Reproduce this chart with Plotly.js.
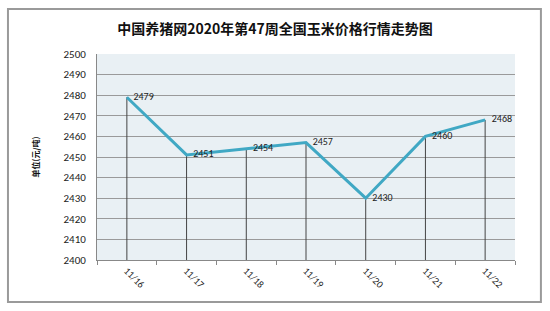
<!DOCTYPE html>
<html>
<head>
<meta charset="utf-8">
<script src="https://cdn.plot.ly/plotly-3.0.1.min.js"></script>
<style>html,body{margin:0;padding:0;background:#fff;}#chart{width:550px;height:311px;}</style>
</head>
<body>
<div id="chart"></div>
<script>
const categories = ["11/16", "11/17", "11/18", "11/19", "11/20", "11/21", "11/22"];
const prices = [2479, 2451, 2454, 2457, 2430, 2460, 2468];
const yTicks = [2400, 2410, 2420, 2430, 2440, 2450, 2460, 2470, 2480, 2490, 2500];
const chartTitle = "中国养猪网2020年第47周全国玉米价格行情走势图";
const yTitle = "单位(元/吨)";
const baseValue = 2400;

const trace = {
  x: categories,
  y: prices,
  type: "scatter",
  mode: "lines+markers+text",
  line: {color: "#40A8C4", width: 3},
  marker: {size: 9, color: "rgba(0,0,0,0)"},
  text: prices.map(String),
  textposition: "middle right",
  textfont: {family: "Carlito, 'Liberation Sans', sans-serif", size: 10, color: "#222"},
  error_y: {
    type: "data",
    symmetric: false,
    array: prices.map(() => 0),
    arrayminus: prices.map(v => v - baseValue),
    color: "#444",
    thickness: 1,
    width: 0
  },
  cliponaxis: false,
  hoverinfo: "x+y"
};

const layout = {
  width: 550,
  height: 311,
  margin: {l: 97, r: 35, t: 54, b: 51},
  paper_bgcolor: "#ffffff",
  plot_bgcolor: "#E9F0F4",
  showlegend: false,
  title: {
    text: chartTitle,
    font: {family: "'Noto Sans CJK SC', sans-serif", size: 14, color: "#111", weight: "bold"},
    x: 0.5, xanchor: "center", y: 0.905, yanchor: "middle"
  },
  xaxis: {
    type: "category",
    tickvals: categories,
    ticktext: categories,
    tickangle: 45,
    showgrid: false,
    showline: true,
    linecolor: "#888",
    linewidth: 1,
    ticks: "outside",
    ticklen: 4,
    tickcolor: "#888",
    tickson: "boundaries",
    tickfont: {family: "Carlito, 'Liberation Sans', sans-serif", size: 10, color: "#222"},
    range: [-0.5, 6.5],
    fixedrange: true
  },
  yaxis: {
    range: [2400, 2500],
    tickvals: yTicks,
    ticktext: yTicks.map(String),
    showgrid: true,
    gridcolor: "#9a9a9a",
    gridwidth: 1,
    showline: true,
    linecolor: "#888",
    zeroline: false,
    ticks: "",
    ticklabelstandoff: 8,
    tickfont: {family: "Carlito, 'Liberation Sans', sans-serif", size: 11, color: "#222"},
    title: {
      text: yTitle,
      font: {family: "'Noto Sans CJK SC', sans-serif", size: 8, color: "#111", weight: "bold"},
      standoff: 22
    },
    fixedrange: true
  },
  shapes: [
    {type: "rect", xref: "paper", yref: "paper", x0: -0.213, x1: 1.062, y0: -0.204, y1: 1.218,
     line: {color: "#9a9a9a", width: 2}, fillcolor: "rgba(0,0,0,0)", layer: "below"}
  ]
};

Plotly.newPlot("chart", [trace], layout, {displayModeBar: false, staticPlot: true});
</script>
</body>
</html>
